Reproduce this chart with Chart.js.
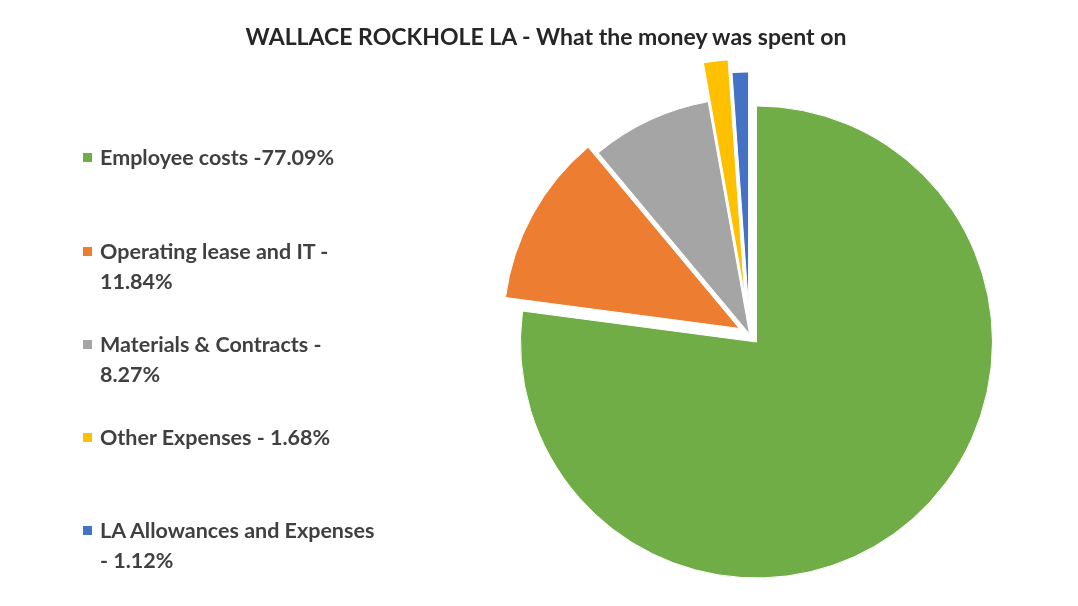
<!DOCTYPE html>
<html>
<head>
<meta charset="utf-8">
<script src="https://cdn.jsdelivr.net/npm/chart.js@4.4.1/dist/chart.umd.min.js"></script>
<style>
  html, body { margin: 0; padding: 0; background: #fff; }
  #wrap { position: relative; width: 1078px; height: 606px; overflow: hidden; }
  #c { position: absolute; left: 0; top: 0; }
  #title { position: absolute; left: 0; width: 1092px; top: 21px; text-align: center;
           font-family: Lato, "Open Sans", sans-serif; font-weight: 700; font-size: 23px; color: #262626; line-height: 30px; }
  .lg { position: absolute; left: 83px; font-family: Lato, "Open Sans", sans-serif; font-weight: 700;
        font-size: 21.5px; color: #404040; line-height: 29.5px; }
  .lg .sw { position: absolute; left: 0; top: 10px; width: 9px; height: 9px; }
  .lg .tx { margin-left: 17px; white-space: nowrap; }
</style>
</head>
<body>
<div id="wrap">
  <canvas id="c" width="1078" height="606"></canvas>
  <div id="title"></div>
  <div id="legend"></div>
</div>
<script>
const chartTitle = "WALLACE ROCKHOLE LA - What the money was spent on";
const categories = ["Employee costs", "Operating lease and IT", "Materials & Contracts", "Other Expenses", "LA Allowances and Expenses"];
const percentages = [77.09, 11.84, 8.27, 1.68, 1.12];
const legendLines = [
  ["Employee costs -77.09%"],
  ["Operating lease and IT -", "11.84%"],
  ["Materials & Contracts -", "8.27%"],
  ["Other Expenses - 1.68%"],
  ["LA Allowances and Expenses", "- 1.12%"]
];
const colors = ["#70AD47", "#ED7D31", "#A5A5A5", "#FFC000", "#4472C4"];
const explodePx = [10.6, 11.5, 0, 39, 26];
const legendTops = [143, 237, 330, 423, 516];

document.getElementById('title').textContent = chartTitle;
const lg = document.getElementById('legend');
legendLines.forEach((lines, i) => {
  const d = document.createElement('div');
  d.className = 'lg';
  d.style.top = legendTops[i] + 'px';
  const sw = document.createElement('span');
  sw.className = 'sw';
  sw.style.background = colors[i];
  d.appendChild(sw);
  lines.forEach(l => {
    const t = document.createElement('div');
    t.className = 'tx';
    t.textContent = l;
    d.appendChild(t);
  });
  lg.appendChild(d);
});

const RADIUS = 236;
// explode slices outward along their mid-angle, keeping same radius
const explodeSlices = {
  id: 'explodeSlices',
  afterDatasetsUpdate(chart) {
    chart.getDatasetMeta(0).data.forEach((arc, i) => {
      const mid = (arc.startAngle + arc.endAngle) / 2;
      const d = explodePx[i] || 0;
      arc.x += Math.cos(mid) * d;
      arc.y += Math.sin(mid) * d;
    });
  }
};

new Chart(document.getElementById('c'), {
  type: 'pie',
  data: {
    labels: categories,
    datasets: [{
      data: percentages,
      backgroundColor: colors,
      borderColor: '#ffffff',
      borderWidth: 1
    }]
  },
  options: {
    responsive: false,
    animation: false,
    events: [],
    radius: RADIUS,
    layout: { padding: { left: 421, right: 0, top: 62, bottom: 0 } },
    plugins: {
      legend: { display: false },
      title: { display: false },
      tooltip: { enabled: false }
    }
  },
  plugins: [explodeSlices]
});
</script>
</body>
</html>
